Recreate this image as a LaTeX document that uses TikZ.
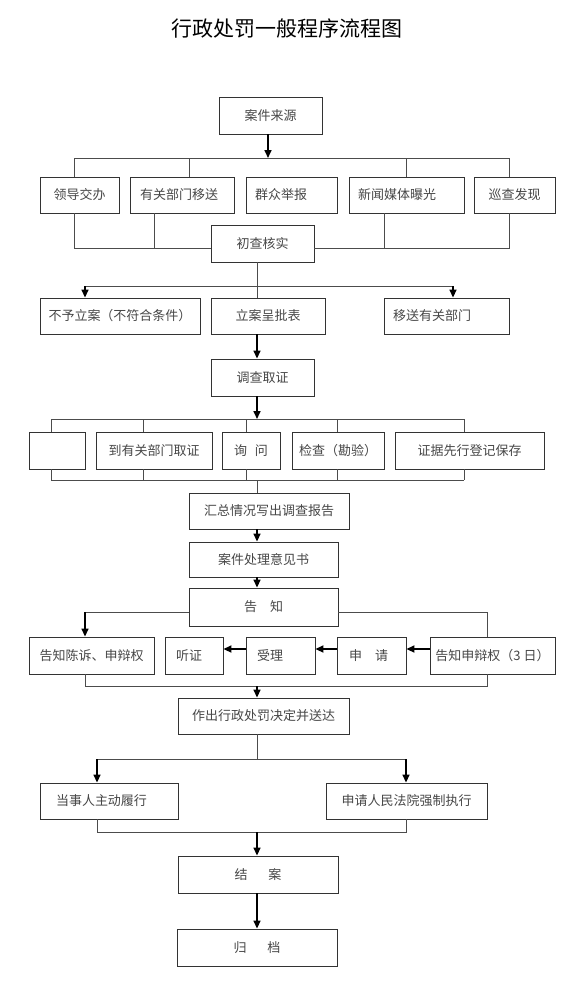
\documentclass[tikz,border=0pt]{standalone}
\usepackage{fontspec}
\newfontfamily\cjk{Noto Sans CJK SC}
\usetikzlibrary{arrows.meta}
\begin{document}
\begin{tikzpicture}[x=1pt,y=-1pt,
  bx/.style={draw=black!80, line width=0.9pt, text=black!72, inner sep=0pt,
    font=\cjk\fontsize{13}{15}\selectfont, minimum height=37pt},
  lbx/.style={bx, align=left},
  ln/.style={draw=black!70, line width=0.8pt},
  arr/.style={draw=black, line width=1.6pt, -{Triangle[length=8pt,width=7pt]}},
  harr/.style={draw=black, line width=1.8pt, -{Triangle[length=8pt,width=7pt]}},
  ttl/.style={font=\cjk\fontsize{21}{24}\selectfont, text=black}]
\useasboundingbox[fill=white] (0,0) rectangle (576,1004);

\node[ttl] (title) at (287,28) {行政处罚一般程序流程图};

% boxes
\node[bx, minimum width=103pt] (src) at (270.5,115.5) {案件来源};
\node[bx, minimum width=79pt, minimum height=36pt] (a1) at (79.5,195) {领导交办};
\node[lbx, text width=84pt, inner xsep=10pt, minimum height=36pt] (a2) at (182,195) {有关部门移送};
\node[lbx, text width=73pt, inner xsep=9pt, minimum height=36pt] (a3) at (291.5,195) {群众举报};
\node[lbx, text width=97pt, inner xsep=9pt, minimum height=36pt] (a4) at (406.5,195) {新闻媒体曝光};
\node[bx, minimum width=81pt, minimum height=36pt] (a5) at (514.5,195) {巡查发现};
\node[bx, minimum width=103pt] (chk) at (262.5,243.5) {初查核实};

\node[bx, minimum width=160pt, minimum height=36pt] (r1) at (120,316) {不予立案（不符合条件）};
\node[bx, minimum width=114pt, minimum height=36pt] (r2) at (268,316) {立案呈批表};
\node[lbx, text width=107pt, inner xsep=9pt, minimum height=36pt] (r3) at (446.5,316) {移送有关部门};
\node[bx, minimum width=103pt] (inv) at (262.5,377.5) {调查取证};

\node[bx, minimum width=56pt] (e0) at (57,450.5) {};
\node[bx, minimum width=116pt] (e1) at (154,450.5) {到有关部门取证};
\node[bx, minimum width=58pt] (e2) at (251,450.5) {询\hspace{0.6em}问};
\node[bx, minimum width=92pt] (e3) at (338,450.5) {检查（勘验）};
\node[bx, minimum width=149pt] (e4) at (469.5,450.5) {证据先行登记保存};

\node[bx, minimum width=160pt, minimum height=36pt] (sum) at (269,511) {汇总情况写出调查报告};
\node[bx, minimum width=149pt, minimum height=35pt] (opn) at (263.5,559.5) {案件处理意见书};
\node[bx, minimum width=149pt, minimum height=38pt] (ntf) at (263.5,607) {告\quad 知};

\node[bx, minimum width=125pt] (n1) at (91.5,655.5) {告知陈诉、申辩权};
\node[lbx, text width=36pt, inner xsep=11pt] (n2) at (194,655.5) {听证};
\node[lbx, text width=47pt, inner xsep=11pt] (n3) at (280.5,655.5) {受理};
\node[lbx, text width=45pt, inner xsep=12pt] (n4) at (371.5,655.5) {申\quad 请};
\node[bx, minimum width=125pt] (n5) at (492.5,655.5) {告知申辩权（3 日）};

\node[bx, minimum width=171pt, minimum height=36pt] (dec) at (263.5,716) {作出行政处罚决定并送达};
\node[lbx, text width=106pt, inner xsep=16pt, minimum height=36pt] (f1) at (109,801) {当事人主动履行};
\node[bx, minimum width=161pt, minimum height=36pt] (f2) at (406.5,801) {申请人民法院强制执行};

\node[bx, minimum width=160pt] (end) at (258,874.5) {结\hspace{1.6em}案};
\node[bx, minimum width=160pt] (arc) at (257,947.5) {归\hspace{1.6em}档};

% junction coordinates
\coordinate (s1) at (268,158);
\coordinate (d1) at (74,158);
\coordinate (d2) at (189,158);
\coordinate (d3) at (406,158);
\coordinate (d4) at (509,158);
\coordinate (u1) at (74,248);
\coordinate (u2) at (154,248);
\coordinate (u3) at (384,248);
\coordinate (u4) at (509,248);
\coordinate (c0) at (257,286);
\coordinate (cL) at (85,286);
\coordinate (cR) at (453,286);
\coordinate (x0) at (257,0);
\coordinate (g0) at (257,419);
\coordinate (g1) at (51,419);
\coordinate (g2) at (143,419);
\coordinate (g3) at (246,419);
\coordinate (g4) at (337,419);
\coordinate (g5) at (464,419);
\coordinate (h0) at (257,480);
\coordinate (h1) at (51,480);
\coordinate (h2) at (143,480);
\coordinate (h3) at (246,480);
\coordinate (h4) at (337,480);
\coordinate (h5) at (464,480);
\coordinate (kL) at (85,612);
\coordinate (kR) at (487,612);
\coordinate (ay) at (0,649);
\coordinate (m0) at (257,686);
\coordinate (mL) at (85,686);
\coordinate (mR) at (487,686);
\coordinate (p0) at (257,759);
\coordinate (pL) at (97,759);
\coordinate (pR) at (406,759);
\coordinate (q0) at (257,832);
\coordinate (qL) at (97,832);
\coordinate (qR) at (406,832);

% source to bus
\draw[arr] (s1 |- src.south) -- (s1);
\draw[ln] (d1) -- (d4);
\draw[ln] (d1) -- (d1 |- a1.north);
\draw[ln] (d2) -- (d2 |- a2.north);
\draw[ln] (d3) -- (d3 |- a4.north);
\draw[ln] (d4) -- (d4 |- a5.north);
% sources to initial check
\draw[ln] (u1 |- a1.south) -- (u1) -- (u1 -| chk.west);
\draw[ln] (u2 |- a2.south) -- (u2);
\draw[ln] (u4 |- a5.south) -- (u4) -- (u4 -| chk.east);
\draw[ln] (u3 |- a4.south) -- (u3);
% check to decisions
\draw[ln] (c0 |- chk.south) -- (c0 |- r2.north);
\draw[ln] (cL) -- (cR);
\draw[arr] (cL) -- (cL |- r1.north);
\draw[arr] (cR) -- (cR |- r3.north);
\draw[arr] (x0 |- r2.south) -- (x0 |- inv.north);
% investigation
\draw[arr] (x0 |- inv.south) -- (g0);
\draw[ln] (g1) -- (g5);
\draw[ln] (g1) -- (g1 |- e0.north);
\draw[ln] (g2) -- (g2 |- e1.north);
\draw[ln] (g3) -- (g3 |- e2.north);
\draw[ln] (g4) -- (g4 |- e3.north);
\draw[ln] (g5) -- (g5 |- e4.north);
\draw[ln] (h1 |- e0.south) -- (h1);
\draw[ln] (h2 |- e1.south) -- (h2);
\draw[ln] (h3 |- e2.south) -- (h3);
\draw[ln] (h4 |- e3.south) -- (h4);
\draw[ln] (h5 |- e4.south) -- (h5);
\draw[ln] (h1) -- (h5);
\draw[ln] (h0) -- (h0 |- sum.north);
\draw[arr] (x0 |- sum.south) -- (x0 |- opn.north);
\draw[arr] (x0 |- opn.south) -- (x0 |- ntf.north);
% notification
\draw[ln] (kL -| ntf.west) -- (kL);
\draw[arr] (kL) -- (kL |- n1.north);
\draw[ln] (kR -| ntf.east) -- (kR) -- (kR |- n5.north);
\draw[harr] (ay -| n5.west) -- (ay -| n4.east);
\draw[harr] (ay -| n4.west) -- (ay -| n3.east);
\draw[harr] (ay -| n3.west) -- (ay -| n2.east);
\draw[ln] (mL |- n1.south) -- (mL) -- (mR) -- (mR |- n5.south);
\draw[arr] (m0) -- (m0 |- dec.north);
% decision
\draw[ln] (p0 |- dec.south) -- (p0);
\draw[ln] (pL) -- (pR);
\draw[arr] (pL) -- (pL |- f1.north);
\draw[arr] (pR) -- (pR |- f2.north);
\draw[ln] (qL |- f1.south) -- (qL) -- (qR) -- (qR |- f2.south);
\draw[arr] (q0) -- (q0 |- end.north);
\draw[arr] (x0 |- end.south) -- (x0 |- arc.north);
\end{tikzpicture}
\end{document}
